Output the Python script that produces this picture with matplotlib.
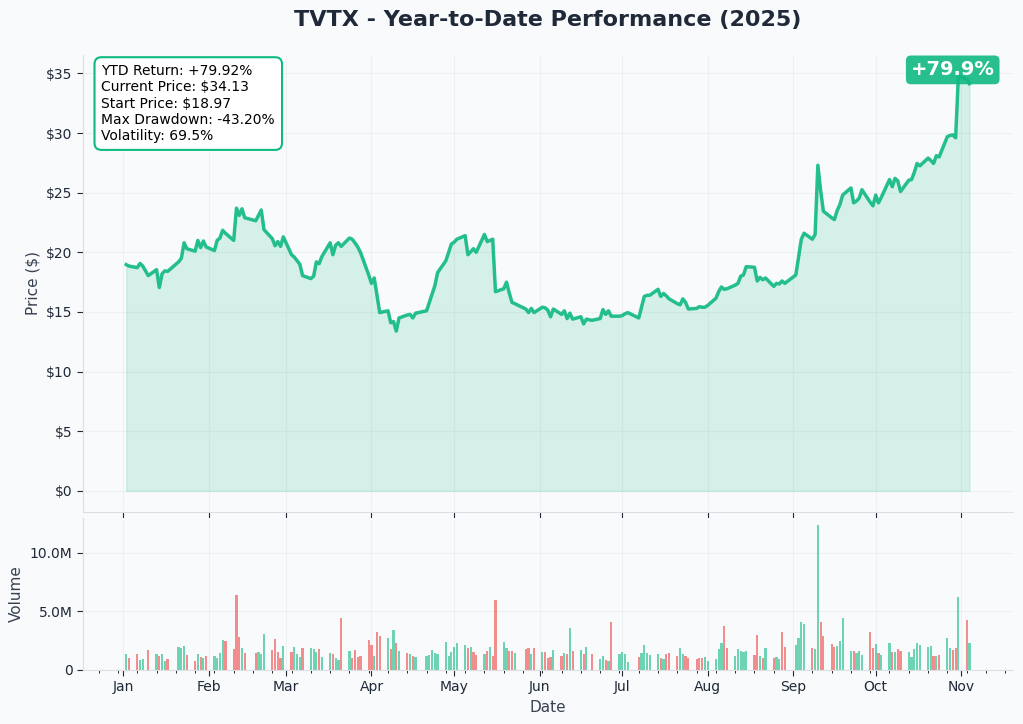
import numpy as np
import pandas as pd
import matplotlib
matplotlib.use('Agg')
import matplotlib.pyplot as plt
import matplotlib.dates as mdates
from matplotlib.ticker import MultipleLocator, FuncFormatter

# trading days of 2025 up to Nov 4 (weekdays minus market closures)
closed = ['2025-01-09', '2025-01-20', '2025-02-17', '2025-04-18', '2025-05-26',
          '2025-06-19', '2025-07-04', '2025-09-01']
dates = pd.bdate_range('2025-01-02', '2025-11-04')
dates = dates[~dates.isin(pd.to_datetime(closed))]

# closing prices
price_jan = [18.97, 18.85, 18.72, 19.07, 18.85, 18.05, 18.55, 17.05, 18.2, 18.45,
             18.4, 19.2, 19.5, 20.8, 20.3, 20.1, 21.0, 20.4, 20.95, 20.45]
price_feb = [20.15, 21.0, 21.2, 21.85, 21.6, 21.0, 23.7, 23.1, 23.65, 22.9,
             22.65, 23.1, 23.55, 21.9, 21.15, 20.55, 20.9, 20.5, 21.3]
price_mar = [19.8, 19.6, 19.3, 19.0, 18.05, 17.8, 18.0, 19.2, 19.05, 19.65,
             20.8, 19.8, 20.6, 20.8, 20.5, 21.2, 21.1, 20.8, 20.45, 20.0, 18.1]
price_apr = [17.4, 17.85, 16.4, 14.95, 15.1, 14.1, 14.2, 13.4, 14.5, 14.75,
             14.8, 14.5, 14.9, 15.1, 15.8, 16.5, 17.2, 18.3, 19.3, 20.0, 20.7]
price_may = [20.85, 21.1, 21.4, 19.8, 20.05, 20.3, 20.0, 21.5, 20.9, 21.0,
             21.1, 16.7, 16.95, 17.5, 16.6, 15.8, 15.7, 15.25, 14.95, 15.3, 14.95]
price_jun = [15.4, 15.35, 15.15, 14.6, 15.25, 14.8, 15.1, 14.45, 14.9, 14.4,
             14.6, 14.0, 14.4, 14.3, 14.45, 15.2, 14.8, 15.1, 14.65, 14.65]
price_jul = [14.7, 14.85, 14.95, 14.5, 15.4, 16.3, 16.4, 16.4, 16.9, 16.3, 16.55,
             16.35, 16.1, 15.7, 15.6, 16.1, 15.8, 15.25, 15.3, 15.45, 15.4, 15.4]
price_aug = [15.55, 16.15, 16.7, 17.1, 16.9, 16.95, 17.25, 17.4, 18.0, 18.1,
             18.8, 18.75, 17.6, 17.9, 17.7, 17.85, 17.15, 17.4, 17.35, 17.6, 17.4]
price_sep = [18.1, 19.6, 21.1, 21.6, 21.1, 21.5, 27.3, 25.2, 23.45, 22.9,
             22.75, 23.5, 24.0, 24.8, 25.4, 24.15, 24.3, 24.55, 25.25, 24.2, 23.9]
price_oct = [24.8, 24.15, 24.6, 26.1, 25.5, 26.2, 26.0, 25.1, 26.05, 26.1, 26.7, 27.45,
             27.25, 27.9, 27.7, 27.45, 28.1, 28.0, 29.7, 29.8, 29.85, 29.6, 34.8]
price_nov = [34.5, 34.13]

# daily volume in millions
vol_jan = [1.37, 1.03, 1.37, 0.85, 0.94, 1.71, 1.37, 1.20, 1.37, 0.77,
           0.94, 1.97, 1.88, 2.05, 1.28, 0.77, 1.37, 1.11, 1.03, 1.20]
vol_feb = [1.20, 1.03, 1.45, 2.56, 2.48, 1.80, 6.41, 2.82, 1.88, 1.45,
           1.45, 1.54, 1.37, 3.08, 1.71, 2.65, 1.54, 1.03, 2.05]
vol_mar = [1.54, 1.97, 1.37, 1.11, 1.88, 1.88, 1.80, 1.54, 1.80, 1.11, 1.45,
           1.37, 1.03, 0.85, 4.44, 1.62, 1.03, 1.71, 1.11, 1.20, 2.56]
vol_apr = [2.14, 1.20, 3.25, 2.90, 2.73, 1.80, 3.42, 2.30, 1.62, 1.45, 1.37,
           1.20, 1.11, 1.20, 1.28, 1.71, 1.45, 1.37, 2.39, 1.20, 1.54]
vol_may = [1.97, 2.30, 2.14, 1.88, 1.97, 1.54, 1.28, 1.37, 1.62, 1.97, 1.20,
           5.98, 2.39, 1.88, 1.62, 1.62, 1.45, 1.80, 1.88, 1.37, 1.88]
vol_jun = [1.54, 1.54, 1.03, 1.11, 1.71, 1.20, 1.45, 1.37, 3.59, 1.62,
           1.71, 1.37, 1.97, 1.37, 0.94, 1.20, 0.85, 0.77, 4.10, 1.37]
vol_jul = [1.54, 1.37, 0.68, 1.11, 1.45, 2.14, 1.45, 1.28, 1.37, 1.03, 0.94,
           1.37, 1.45, 1.20, 1.88, 1.37, 1.20, 1.03, 0.94, 1.03, 1.03, 1.11]
vol_aug = [0.77, 0.94, 1.80, 2.30, 3.76, 1.88, 1.20, 1.80, 1.62, 1.54, 1.62,
           1.28, 2.99, 1.20, 1.03, 1.88, 1.03, 1.11, 0.94, 3.25, 1.97]
vol_sep = [2.14, 2.73, 4.10, 3.93, 1.88, 1.80, 12.39, 4.10, 2.90, 2.22, 1.97,
           2.05, 2.48, 4.44, 1.62, 1.62, 1.45, 1.62, 1.28, 3.25, 1.88]
vol_oct = [2.22, 1.45, 1.28, 2.30, 1.54, 1.54, 1.80, 1.62, 1.54, 1.11, 1.80, 2.30,
           2.14, 1.97, 2.05, 1.20, 1.20, 1.28, 2.73, 1.88, 1.71, 1.88, 6.24]
vol_nov = [4.27, 2.30]

# 1 = up day (green bar), 0 = down day (red bar)
up_jan = [1, 0, 0, 1, 1, 0, 1, 0, 1, 1, 0, 1, 1, 1, 0, 0, 1, 0, 1, 0]
up_feb = [1, 1, 1, 1, 0, 0, 0, 0, 1, 0, 0, 1, 1, 1, 0, 0, 0, 0, 1]
up_mar = [0, 1, 1, 1, 0, 1, 1, 1, 0, 1, 1, 0, 1, 1, 0, 1, 0, 0, 0, 0, 0]
up_apr = [0, 1, 0, 0, 1, 0, 1, 0, 1, 0, 1, 0, 1, 1, 1, 1, 1, 1, 1, 1, 1]
up_may = [1, 1, 1, 0, 1, 0, 0, 1, 0, 1, 0, 0, 1, 1, 0, 0, 1, 0, 0, 1, 0]
up_jun = [1, 0, 0, 0, 1, 0, 1, 0, 1, 0, 1, 0, 1, 0, 1, 1, 0, 1, 0, 1]
up_jul = [1, 1, 1, 0, 1, 1, 1, 1, 1, 0, 1, 0, 0, 0, 1, 1, 0, 0, 0, 0, 0, 1]
up_aug = [1, 1, 1, 1, 0, 0, 1, 1, 1, 1, 1, 0, 0, 1, 0, 1, 0, 1, 1, 0, 0]
up_sep = [1, 1, 1, 1, 0, 1, 1, 0, 0, 0, 0, 1, 1, 1, 1, 0, 1, 1, 1, 0, 0]
up_oct = [1, 0, 1, 1, 0, 1, 0, 0, 1, 1, 1, 1, 1, 1, 1, 0, 1, 0, 1, 1, 0, 0, 1]
up_nov = [0, 1]

stats_lines = ['YTD Return: +79.92%', 'Current Price: $34.13', 'Start Price: $18.97',
               'Max Drawdown: -43.20%', 'Volatility: 69.5%']
badge_text = '+79.9%'

prices = np.array(price_jan + price_feb + price_mar + price_apr + price_may + price_jun
                  + price_jul + price_aug + price_sep + price_oct + price_nov)
volume = np.array(vol_jan + vol_feb + vol_mar + vol_apr + vol_may + vol_jun
                  + vol_jul + vol_aug + vol_sep + vol_oct + vol_nov) * 1e6
up = np.array(up_jan + up_feb + up_mar + up_apr + up_may + up_jun
              + up_jul + up_aug + up_sep + up_oct + up_nov)

bg = '#f8fafc'
green = '#10b981'
red = '#ef4444'

fig = plt.figure(figsize=(10.23, 7.24), dpi=100, facecolor=bg)
gs = fig.add_gridspec(2, 1, height_ratios=[3, 1], hspace=0.02,
                      left=0.081, right=0.990, top=0.924, bottom=0.0746)
ax = fig.add_subplot(gs[0])
ax2 = fig.add_subplot(gs[1], sharex=ax)

# price line + fill
ax.plot(dates, prices, color=green, lw=2.5, alpha=0.9, zorder=3)
ax.fill_between(dates, prices, 0, color=green, alpha=0.15, zorder=2)

ax.set_title('TVTX - Year-to-Date Performance (2025)', fontsize=16, fontweight='bold',
             color='#1f2937', pad=21)
ax.set_ylabel('Price ($)', fontsize=11, color='#374151')
ax.yaxis.set_major_locator(MultipleLocator(5))
ax.yaxis.set_major_formatter(FuncFormatter(lambda v, p: f'${v:.0f}'))

# stats box
ax.text(0.02, 0.98, '\n'.join(stats_lines), transform=ax.transAxes, fontsize=10,
        va='top', ha='left', color='black',
        bbox=dict(boxstyle='round,pad=0.5', fc='white', ec=green, lw=1.5))

# return badge at last point
ax.annotate(badge_text, xy=(dates[-1], prices[-1]), xytext=(-12, 10),
            textcoords='offset points', ha='center', va='center',
            fontsize=14, fontweight='bold', color='white',
            bbox=dict(boxstyle='round,pad=0.25', fc=green, ec='none', alpha=0.9), zorder=5)

# volume bars
colors = [green if u else red for u in up]
ax2.bar(dates, volume, width=0.8, color=colors, alpha=0.6)
ax2.set_ylabel('Volume', fontsize=11, color='#374151')
ax2.set_xlabel('Date', fontsize=11, color='#374151')
ax2.yaxis.set_major_locator(MultipleLocator(5e6))
ax2.yaxis.set_major_formatter(FuncFormatter(lambda v, p: '0' if v == 0 else f'{v/1e6:.1f}M'))

ax2.xaxis.set_major_locator(mdates.MonthLocator())
ax2.xaxis.set_major_formatter(mdates.DateFormatter('%b'))
ax2.xaxis.set_minor_locator(mdates.WeekdayLocator(byweekday=mdates.MO))

for a in (ax, ax2):
    a.set_facecolor(bg)
    a.grid(True, color='#e5e7eb', alpha=0.5, lw=0.8)
    a.set_axisbelow(True)
    a.spines['top'].set_visible(False)
    a.spines['right'].set_visible(False)
    a.spines['left'].set_color('#dcdfe4')
    a.spines['bottom'].set_color('#dcdfe4')
    a.tick_params(labelsize=10, colors='#1f2937', length=4)

plt.setp(ax.get_xticklabels(), visible=False)
ax.tick_params(axis='x', which='minor', bottom=False)
ax2.tick_params(axis='x', which='minor', length=2)

plt.savefig('out.png', dpi=100, facecolor=bg)
